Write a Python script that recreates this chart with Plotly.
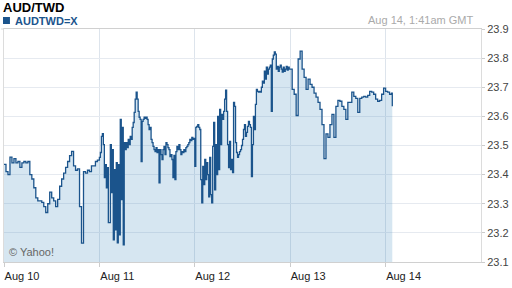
import pandas as pd
import plotly.graph_objects as go

# ---- data (AUD/TWD, intraday samples) ----
# Aug 10 and Aug 13: 30-minute samples; Aug 11 and Aug 12: 15-minute samples
AUG10 = [
    23.435, 23.41, 23.40, 23.46, 23.44, 23.455, 23.44, 23.445, 23.425, 23.44, 23.445, 23.44,
    23.445, 23.40, 23.385, 23.355, 23.32, 23.31, 23.31, 23.305, 23.29, 23.27, 23.30, 23.34,
    23.32, 23.31, 23.29, 23.315, 23.36, 23.385, 23.405, 23.425, 23.445, 23.465, 23.48, 23.43,
    23.415, 23.42, 23.29, 23.165, 23.41, 23.405, 23.415, 23.41, 23.43, 23.43, 23.445, 23.45,
]
AUG11 = [
    23.459, 23.476, 23.531, 23.541, 23.503, 23.390, 23.434, 23.355, 23.424, 23.235, 23.235, 23.503,
    23.338, 23.486, 23.176, 23.417, 23.210, 23.441, 23.166, 23.434, 23.193, 23.590, 23.314, 23.562,
    23.159, 23.510, 23.486, 23.510, 23.493, 23.521, 23.503, 23.531, 23.521, 23.562, 23.579, 23.614,
    23.659, 23.683, 23.659, 23.617, 23.597, 23.590, 23.445, 23.583, 23.590, 23.597, 23.593, 23.597,
    23.590, 23.572, 23.555, 23.562, 23.521, 23.510, 23.497, 23.486, 23.479, 23.493, 23.476, 23.486,
    23.372, 23.486, 23.469, 23.452, 23.486, 23.497, 23.469, 23.510, 23.503, 23.493, 23.486, 23.462,
    23.469, 23.452, 23.390, 23.466, 23.383, 23.479, 23.497, 23.486, 23.503, 23.486, 23.469, 23.479,
    23.476, 23.486, 23.479, 23.493, 23.497, 23.503, 23.510, 23.521, 23.517, 23.528, 23.521, 23.524,
]
AUG12 = [
    23.428, 23.562, 23.566, 23.572, 23.562, 23.555, 23.383, 23.303, 23.428, 23.366, 23.452, 23.383,
    23.441, 23.400, 23.324, 23.459, 23.331, 23.303, 23.497, 23.579, 23.348, 23.503, 23.400, 23.600,
    23.417, 23.624, 23.503, 23.607, 23.590, 23.617, 23.659, 23.690, 23.617, 23.503, 23.424, 23.514,
    23.417, 23.452, 23.407, 23.648, 23.634, 23.510, 23.476, 23.459, 23.469, 23.479, 23.486, 23.500,
    23.521, 23.555, 23.572, 23.531, 23.545, 23.566, 23.583, 23.572, 23.562, 23.393, 23.503, 23.600,
    23.555, 23.641, 23.693, 23.686, 23.683, 23.686, 23.683, 23.700, 23.721, 23.714, 23.755, 23.728,
    23.769, 23.745, 23.762, 23.769, 23.776, 23.617, 23.797, 23.810, 23.821, 23.814, 23.762, 23.772,
    23.755, 23.769, 23.776, 23.762, 23.752, 23.769, 23.755, 23.762, 23.772, 23.759, 23.769, 23.762,
]
AUG13 = [
    23.762, 23.693, 23.676, 23.603, 23.797, 23.824, 23.762, 23.734, 23.693, 23.728, 23.71, 23.70,
    23.68, 23.666, 23.648, 23.624, 23.572, 23.455, 23.54, 23.528, 23.572, 23.607, 23.528, 23.634,
    23.655, 23.652, 23.634, 23.624, 23.59, 23.648, 23.648, 23.683, 23.669, 23.662, 23.614, 23.662,
    23.666, 23.669, 23.666, 23.672, 23.686, 23.683, 23.676, 23.659, 23.652, 23.655, 23.676, 23.697,
]
AUG14 = [23.686, 23.683, 23.676, 23.68, 23.635]  # 30-min samples, last one at 1:41am

DAY_STARTS = ["2015-08-10", "2015-08-11", "2015-08-12", "2015-08-13"]
AUG14_START = "2015-08-14"
LAST_TIME = "2015-08-14 01:41"
RANGE = ["2015-08-10 00:00", "2015-08-15 00:00"]

TICK_DATES = ["2015-08-10", "2015-08-11", "2015-08-12", "2015-08-13", "2015-08-14"]
TICK_LABELS = ["Aug 10", "Aug 11", "Aug 12", "Aug 13", "Aug 14"]

TITLE = "AUD/TWD"
SYMBOL = "AUDTWD=X"
STAMP = "Aug 14, 1:41am GMT"
CREDIT = "\u00a9 Yahoo!"

# ---- build the time axis for the samples ----
times, values = [], []
for start, vals in zip(DAY_STARTS, [AUG10, AUG11, AUG12, AUG13]):
    step = pd.Timedelta(hours=24) / len(vals)
    times += [pd.Timestamp(start) + k * step for k in range(len(vals))]
    values += vals
times += [pd.Timestamp(AUG14_START) + k * pd.Timedelta(minutes=30) for k in range(len(AUG14) - 1)]
times += [pd.Timestamp(LAST_TIME)]
values += AUG14

LINE = "#1b548c"
FONT = "Liberation Sans, Arial, sans-serif"

fig = go.Figure(
    go.Scatter(
        x=times, y=values, mode="lines",
        line=dict(color=LINE, width=1.3, shape="hv"),
        fill="tozeroy", fillcolor="rgba(50,130,185,0.2)",
        hoverinfo="skip", showlegend=False,
    )
)

W, H = 512, 288
ML, MR, MT, MB = 3, 28, 29, 26
pw, ph = W - ML - MR, H - MT - MB

def px(xp):
    return (xp - ML) / pw

def py(yp):
    return (H - MB - yp) / ph

fig.update_layout(
    width=W, height=H,
    margin=dict(l=ML, r=MR, t=MT, b=MB),
    paper_bgcolor="white", plot_bgcolor="white",
    font=dict(family=FONT, size=11, color="#333"),
    xaxis=dict(
        range=RANGE,
        tickvals=TICK_DATES, ticktext=TICK_LABELS,
        ticks="outside", ticklen=4, tickcolor="#cccccc",
        ticklabelshift=18,
        tickfont=dict(size=11, color="#222"),
        showgrid=True, gridcolor="#dde4ec", gridwidth=1,
        showline=True, linecolor="#d0d0d0", mirror=True,
        zeroline=False, fixedrange=True,
    ),
    yaxis=dict(
        side="right", range=[23.1, 23.9],
        tick0=23.1, dtick=0.1, tickformat=".1f",
        ticks="outside", ticklen=3, tickcolor="#cccccc",
        tickfont=dict(size=11, color="#444"),
        showgrid=True, gridcolor="#e6eaf0", gridwidth=1,
        showline=True, linecolor="#dcdcdc", mirror=True,
        zeroline=False, fixedrange=True,
    ),
    shapes=[
        dict(type="rect", xref="paper", yref="paper",
             x0=px(2), x1=px(9), y0=py(24), y1=py(17),
             fillcolor=LINE, line=dict(width=0)),
        dict(type="line", xref="paper", yref="paper",
             x0=px(0), x1=px(3), y0=1, y1=1,
             line=dict(color="#dcdcdc", width=1)),
    ],
    annotations=[
        dict(text="<b>" + TITLE + "</b>", xref="paper", yref="paper",
             x=px(0), y=py(7.5), xanchor="left", yanchor="middle",
             showarrow=False, font=dict(size=13, color="#000")),
        dict(text="<b>" + SYMBOL + "</b>", xref="paper", yref="paper",
             x=px(12), y=py(20.5), xanchor="left", yanchor="middle",
             showarrow=False, font=dict(size=11, color=LINE)),
        dict(text=STAMP, xref="paper", yref="paper",
             x=px(478), y=py(20), xanchor="right", yanchor="middle",
             showarrow=False, font=dict(size=11, color="#aaaaaa")),
        dict(text=CREDIT, xref="paper", yref="paper",
             x=px(6), y=py(252), xanchor="left", yanchor="middle",
             showarrow=False, font=dict(size=11, color="#666")),
    ],
)

fig.write_html("out.html", config={"displayModeBar": False})
